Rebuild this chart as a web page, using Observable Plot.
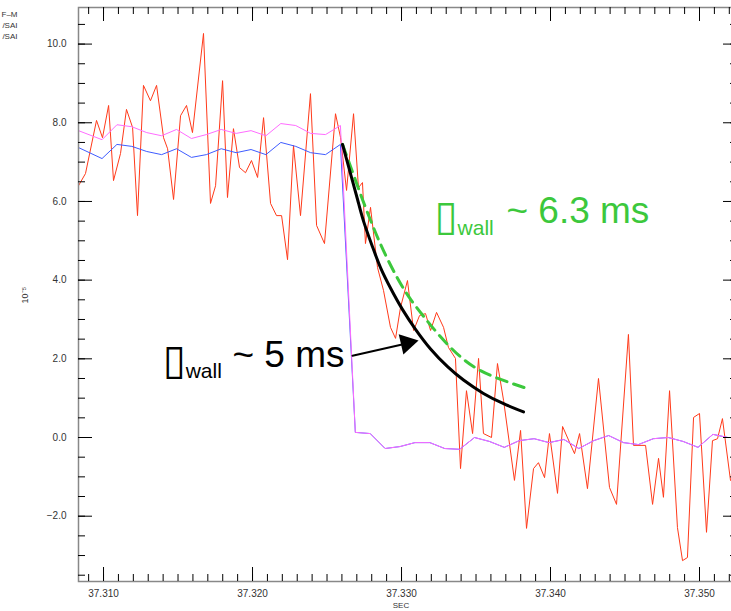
<!DOCTYPE html>
<html><head><meta charset="utf-8">
<script src="https://cdn.jsdelivr.net/npm/d3@7"></script>
<script src="https://cdn.jsdelivr.net/npm/@observablehq/plot@0.6"></script>
<style>html,body{margin:0;padding:0;background:#fff;} svg{display:block} .boxglyph text{letter-spacing:-9px}</style>
</head><body><div id="chart"></div>
<script>
// ---- data (time in s, signal in units of 1e-5) ----
const redT = [37.30832, 37.30879, 37.30953, 37.30993, 37.31034, 37.31067, 37.31114, 37.31154, 37.31195, 37.31228,
  37.31268, 37.31315, 37.31356, 37.31403, 37.31430, 37.31470, 37.31517, 37.31557, 37.31597, 37.31671,
  37.31718, 37.31752, 37.31799, 37.31832, 37.31872, 37.31913, 37.31953, 37.31993, 37.32034, 37.32074,
  37.32121, 37.32161, 37.32195, 37.32235, 37.32275, 37.32322, 37.32389, 37.32430, 37.32483, 37.32557,
  37.32591, 37.32631, 37.32678, 37.32711, 37.32738, 37.32758, 37.32792, 37.32839, 37.32879, 37.32926,
  37.32960, 37.32993, 37.33040, 37.33081, 37.33121, 37.33161, 37.33195, 37.33235, 37.33282, 37.33315,
  37.33362, 37.33396, 37.33436, 37.33477, 37.33517, 37.33550, 37.33604, 37.33644, 37.33685, 37.33758,
  37.33799, 37.33839, 37.33886, 37.33919, 37.33960, 37.33993, 37.34047, 37.34081, 37.34161, 37.34195,
  37.34248, 37.34322, 37.34396, 37.34443, 37.34523, 37.34557, 37.34638, 37.34685, 37.34725, 37.34758,
  37.34799, 37.34852, 37.34886, 37.34919, 37.34960, 37.35000, 37.35047, 37.35087, 37.35121, 37.35154, 37.35208];
const redV = [6.40, 6.71, 8.06, 7.62, 8.44, 6.53, 7.22, 8.34, 7.88, 5.64,
  8.95, 8.56, 8.95, 7.62, 7.34, 6.05, 8.18, 8.44, 7.75, 10.27,
  5.95, 6.40, 9.07, 6.10, 7.85, 6.86, 6.73, 7.04, 6.61, 8.13,
  5.95, 5.64, 5.64, 4.52, 7.42, 5.64, 8.74, 5.39, 4.93, 8.23,
  7.62, 6.28, 8.23, 6.35, 6.48, 4.93, 5.85, 4.32, 3.74, 2.80,
  2.52, 3.30, 3.99, 2.72, 3.10, 3.15, 2.72, 3.18, 2.80, 2.29,
  2.01, -0.79, 1.19, 0.10, 2.01, 0.10, 0.00, 1.88, 0.94, -1.09,
  0.18, -2.31, -0.79, -0.64, -1.02, 0.10, -1.42, 0.28, -0.41, 0.10,
  -1.30, 1.50, -1.27, -1.70, 2.62, -0.20, -0.20, -1.70, -0.53, -1.52,
  1.19, -2.29, -3.13, -3.05, 0.51, 0.61, -2.41, -0.08, -0.03, 0.48, -1.09];

const smoothT = [37.30832, 37.3099, 37.3109, 37.3119, 37.3129, 37.3139, 37.3149, 37.3159, 37.3169, 37.3179,
  37.3189, 37.3199, 37.3209, 37.3219, 37.3229, 37.3239, 37.3249, 37.3259,
  37.3269, 37.3279, 37.3289, 37.3299, 37.3309, 37.3319, 37.3329, 37.3339, 37.3349, 37.3359,
  37.3369, 37.3379, 37.3389, 37.3399, 37.3409, 37.3419, 37.3429, 37.3439, 37.3449, 37.3459,
  37.3469, 37.3479, 37.3489, 37.3499, 37.3509, 37.3519];
const blueV = [7.37, 7.09, 7.45, 7.40, 7.27, 7.19, 7.34, 7.12, 7.19, 7.34,
  7.24, 7.32, 7.19, 7.50, 7.40, 7.24, 7.19, 7.45,
  0.13, 0.10, -0.28, -0.23, -0.13, -0.13, -0.28, -0.30, 0.00, -0.10,
  -0.25, -0.08, -0.03, -0.13, -0.05, -0.28, -0.08, 0.05, -0.13, -0.18,
  -0.03, 0.00, -0.10, -0.25, 0.08, 0.00];
const magentaV = [7.80, 7.57, 7.95, 7.90, 7.75, 7.67, 7.83, 7.60, 7.70, 7.83,
  7.73, 7.80, 7.67, 7.98, 7.93, 7.73, 7.70, 7.93,
  0.13, 0.10, -0.28, -0.23, -0.13, -0.13, -0.28, -0.30, 0.00, -0.10,
  -0.25, -0.08, -0.03, -0.13, -0.05, -0.28, -0.08, 0.05, -0.13, -0.18,
  -0.03, 0.00, -0.10, -0.25, 0.08, 0.00];

// decay curves
const fit5T = [37.32604, 37.32658, 37.32705, 37.32745, 37.32805, 37.32859, 37.32926, 37.33007, 37.33094, 37.33195, 37.33309, 37.33416, 37.33550, 37.33685, 37.33819];
const fit5V = [7.45, 6.70, 6.05, 5.50, 4.85, 4.32, 3.80, 3.25, 2.75, 2.25, 1.80, 1.46, 1.12, 0.86, 0.65];
const fit63T = [37.32604, 37.32671, 37.32738, 37.32805, 37.32879, 37.32973, 37.33060, 37.33148, 37.33262, 37.33396, 37.33530, 37.33685, 37.33846];
const fit63V = [7.45, 6.75, 6.05, 5.40, 4.75, 4.05, 3.52, 3.08, 2.56, 2.05, 1.70, 1.45, 1.24];

// axis ticks & labels
const xMajor = [37.31, 37.32, 37.33, 37.34, 37.35];
const xLabels = ["37.310", "37.320", "37.330", "37.340", "37.350"];
const yMajor = [-2, 0, 2, 4, 6, 8, 10];
const yLabels = ["\u22122.0", "0.0", "2.0", "4.0", "6.0", "8.0", "10.0"];
const xMinor = d3.range(37309, 37353).map(d => d / 1000);
const yMinor = d3.range(-7, 22).map(d => d / 2);

// annotations
const arrowShaft = [{t: 37.32671, v: 2.08}, {t: 37.33034, v: 2.39}];
const arrowHead = [{t: 37.33036, v: 2.40}];
const legendFragments = ["F\u2013M", "/SAI", "/SAI"];

// ---- layout ----
const W = 731, H = 611, mL = 78, mT = 7, mB = 30, mR = -6;
const innerH = H - mT - mB, innerW = W - mL - mR;

const series = (T, V) => T.map((t, i) => ({t, v: V[i]}));
const red = series(redT, redV), blue = series(smoothT, blueV), magenta = series(smoothT, magentaV);
const fit5 = series(fit5T, fit5V), fit63 = series(fit63T, fit63V);

const green = "#3cc83c";
const font = "'Liberation Sans', Arial, Helvetica, sans-serif";

const legendMarks = legendFragments.map((s, i) =>
  Plot.text([s], {frameAnchor: "top-left", dx: 17 - mL, dy: 9 + 11 * i, textAnchor: "end", lineAnchor: "bottom", fontSize: 8, fill: "#333"}));

const chart = Plot.plot({
  width: W, height: H,
  marginLeft: mL, marginTop: mT, marginBottom: mB, marginRight: mR,
  x: {domain: [37.30832, 37.35255], axis: null},
  y: {domain: [-3.66, 10.93], axis: null},
  style: {fontFamily: font, fontSize: "10px", color: "#333", background: "#fff", overflow: "visible"},
  marks: [
    // data
    Plot.line(red, {x: "t", y: "v", stroke: "#ff3a1a", strokeWidth: 1, clip: true}),
    Plot.line(blue, {x: "t", y: "v", stroke: "#3f5cff", strokeWidth: 1, clip: true}),
    Plot.line(magenta, {x: "t", y: "v", stroke: "#ff6cff", strokeWidth: 1, clip: true}),
    Plot.line(fit63, {x: "t", y: "v", stroke: green, strokeWidth: 3, strokeDasharray: "11,7", curve: "natural"}),
    Plot.line(fit5, {x: "t", y: "v", stroke: "#000", strokeWidth: 3, curve: "natural"}),
    Plot.line(arrowShaft, {x: "t", y: "v", stroke: "#000", strokeWidth: 2}),
    Plot.dot(arrowHead, {x: "t", y: "v", symbol: "triangle", r: 7.7, rotate: 77, fill: "#000", stroke: "none"}),
    // frame & ticks (inward, IDL style)
    Plot.frame({stroke: "#888", strokeWidth: 1.5}),
    Plot.tickX(xMinor, {x: d => d, insetTop: innerH - 7, stroke: "#000"}),
    Plot.tickX(xMajor, {x: d => d, insetTop: innerH - 14, stroke: "#000"}),
    Plot.tickX(xMinor, {x: d => d, insetBottom: innerH - 7, stroke: "#000"}),
    Plot.tickX(xMajor, {x: d => d, insetBottom: innerH - 14, stroke: "#000"}),
    Plot.tickY(yMinor, {y: d => d, insetRight: innerW - 7, stroke: "#000"}),
    Plot.tickY(yMajor, {y: d => d, insetRight: innerW - 14, stroke: "#000"}),
    Plot.tickY(yMinor, {y: d => d, insetLeft: innerW - 7, stroke: "#000"}),
    Plot.tickY(yMajor, {y: d => d, insetLeft: innerW - 14, stroke: "#000"}),
    // tick labels
    Plot.text(xMajor, {x: d => d, text: (d, i) => xLabels[i], frameAnchor: "bottom", dy: 15, fontSize: 10, fill: "#333"}),
    Plot.text(yMajor, {y: d => d, text: (d, i) => yLabels[i], frameAnchor: "left", dx: -12, textAnchor: "end", fontSize: 10, fill: "#333"}),
    // axis titles
    Plot.text(["SEC"], {frameAnchor: "bottom", dx: -7, dy: 21, lineAnchor: "top", fontSize: 8, fill: "#333"}),
    Plot.text(["10\u207B\u2075"], {frameAnchor: "left", dx: -53, dy: 9, rotate: -90, fontSize: 9, fill: "#333"}),
    // legend fragments at top left (cut off in the original)
    ...legendMarks,
    // annotations
    Plot.text(["\u25AF"], {x: () => 37.31398, y: () => 1.62, textAnchor: "start", lineAnchor: "bottom", fontSize: 42, fill: "#000", fontFamily: "DejaVu Sans", className: "boxglyph"}),
    Plot.text(["wall"], {x: () => 37.31551, y: () => 1.50, textAnchor: "start", lineAnchor: "bottom", fontSize: 21, fill: "#000"}),
    Plot.text(["~ 5 ms"], {x: () => 37.31865, y: () => 1.78, textAnchor: "start", lineAnchor: "bottom", fontSize: 37, fill: "#000"}),
    Plot.text(["\u25AF"], {x: () => 37.33221, y: () => 5.28, textAnchor: "start", lineAnchor: "bottom", fontSize: 42, fill: green, fontFamily: "DejaVu Sans", className: "boxglyph"}),
    Plot.text(["wall"], {x: () => 37.33376, y: () => 5.16, textAnchor: "start", lineAnchor: "bottom", fontSize: 21, fill: green}),
    Plot.text(["~ 6.3 ms"], {x: () => 37.33704, y: () => 5.46, textAnchor: "start", lineAnchor: "bottom", fontSize: 37, fill: green})
  ]
});
document.getElementById("chart").append(chart);
</script>
</body></html>
